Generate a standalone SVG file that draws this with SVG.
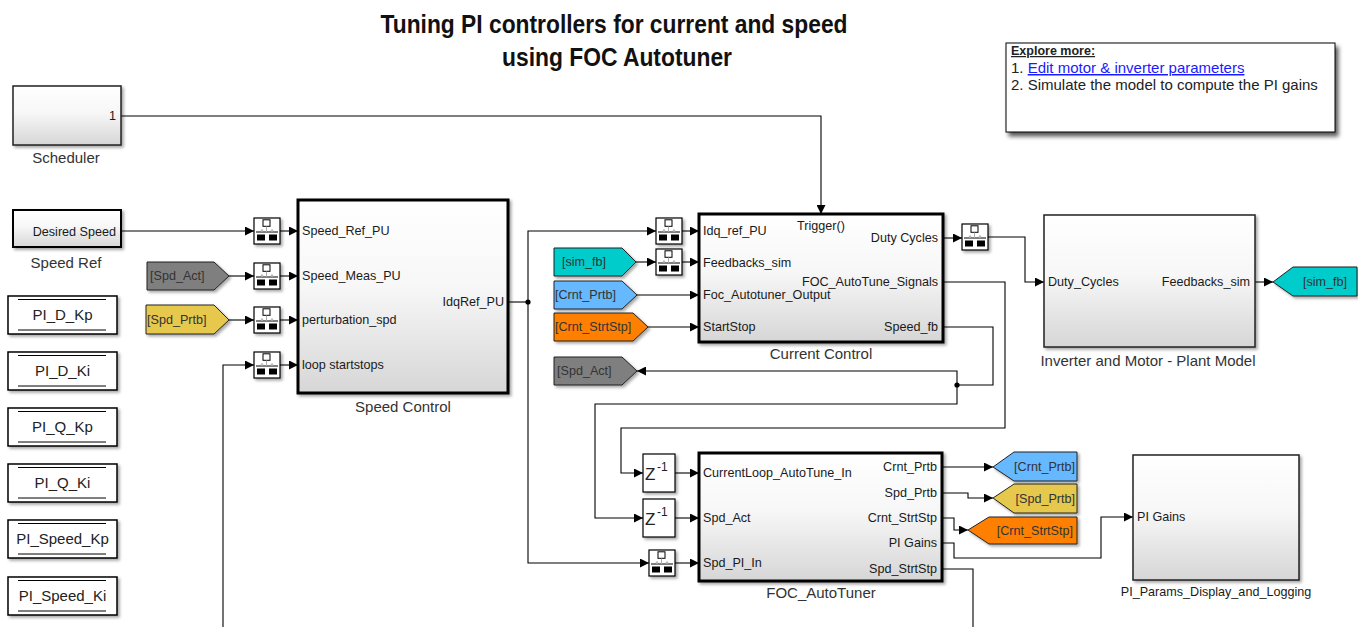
<svg xmlns="http://www.w3.org/2000/svg" xmlns:xlink="http://www.w3.org/1999/xlink" width="1358" height="627" viewBox="0 0 1358 627">
<style>
text{font-family:"Liberation Sans",Arial,sans-serif}
.port{font-size:12.6px;fill:#1a1a1a}
.end{text-anchor:end}
.lbl{font-size:15px;fill:#333;text-anchor:middle}
.blk{fill:url(#grad);stroke:#000;stroke-width:2}
.heavy{stroke-width:3}
.thin{stroke:#222;stroke-width:1.5}
.const{fill:#fff;stroke:#000;stroke-width:1.5}
.cl{stroke:#000;stroke-width:1}
.ctext{font-size:15px;fill:#222;text-anchor:middle}
.tag{stroke:#222;stroke-width:1}
.tagt{font-size:12.6px;fill:#333}
.w{fill:none;stroke:#000;stroke-width:1.1;marker-end:url(#ah)}
.wn{fill:none;stroke:#000;stroke-width:1.1}
.z{fill:#fff;stroke:#000;stroke-width:1.2}
</style>
<defs>
<linearGradient id="grad" x1="0" y1="0" x2="0" y2="1">
<stop offset="0" stop-color="#ffffff"/>
<stop offset="0.45" stop-color="#f7f7f7"/>
<stop offset="1" stop-color="#d6d6d6"/>
</linearGradient>
<filter id="sh" x="-10%" y="-10%" width="130%" height="130%">
<feDropShadow dx="2" dy="2" stdDeviation="1.4" flood-color="#000" flood-opacity="0.35"/>
</filter>
<filter id="sh2" x="-10%" y="-10%" width="130%" height="140%">
<feDropShadow dx="3" dy="4" stdDeviation="2" flood-color="#000" flood-opacity="0.65"/>
</filter>
<marker id="ah" markerWidth="9" markerHeight="9" refX="9" refY="4.5" orient="auto" markerUnits="userSpaceOnUse">
<path d="M0,0 L9,4.5 L0,9 Z" fill="#000"/>
</marker>
<g id="rt">
<rect x="0" y="0" width="26" height="26" fill="#fff" stroke="#000" stroke-width="1.2" filter="url(#sh)"/>
<rect x="9" y="1.8" width="7" height="6.5" fill="#fff" stroke="#000" stroke-width="1"/>
<line x1="2" y1="14" x2="24" y2="14" stroke="#000" stroke-width="1"/>
<line x1="12.5" y1="8.5" x2="12.5" y2="14" stroke="#aaa" stroke-width="1"/>
<circle cx="8" cy="12.5" r="1.2" fill="#bbb"/>
<circle cx="18" cy="12.5" r="1.2" fill="#bbb"/>
<rect x="3" y="16.5" width="8" height="6" fill="#000"/>
<rect x="15" y="16.5" width="8" height="6" fill="#000"/>
</g>
</defs>
<rect width="1358" height="627" fill="#fff"/>

<g id="title">
<text x="614" y="33" font-size="26" font-weight="bold" fill="#111" text-anchor="middle" textLength="467" lengthAdjust="spacingAndGlyphs">Tuning PI controllers for current and speed</text>
<text x="617" y="66" font-size="26" font-weight="bold" fill="#111" text-anchor="middle" textLength="230" lengthAdjust="spacingAndGlyphs">using FOC Autotuner</text>
</g>

<g id="explore-more">
<rect x="1006" y="43" width="329" height="89" fill="#fff" stroke="#000" stroke-width="1" filter="url(#sh2)"/>
<text x="1011" y="55" font-size="12.5" font-weight="bold" fill="#222" text-decoration="underline">Explore more:</text>
<text x="1011" y="73" font-size="15" fill="#222">1. <tspan fill="#1a1aff" text-decoration="underline">Edit motor &amp; inverter parameters</tspan></text>
<text x="1011" y="90" font-size="15" fill="#222">2. Simulate the model to compute the PI gains</text>
</g>

<g id="connectors">
<path class="w" d="M121,116 H821 V214"/>
<path class="w" d="M121,231 H254"/>
<path class="w" d="M280,231 H298"/>
<path class="w" d="M229,276 H254"/>
<path class="w" d="M280,276 H298"/>
<path class="w" d="M229,320 H254"/>
<path class="w" d="M280,320 H298"/>
<path class="w" d="M223,627 V365 H254"/>
<path class="w" d="M280,365 H298"/>
<path class="wn" d="M508,302 H528"/>
<path class="w" d="M528,302 V231 H656"/>
<path class="w" d="M528,302 V563 H649"/>
<circle cx="528" cy="302" r="2.6" fill="#000"/>
<path class="w" d="M682,231 H699"/>
<path class="w" d="M636,262 H656"/>
<path class="w" d="M682,262 H699"/>
<path class="w" d="M637,295 H699"/>
<path class="w" d="M648,327 H699"/>
<path class="w" d="M943,238 H962"/>
<path class="w" d="M988,237 H1025 V282 H1044"/>
<path class="w" d="M1255,282 H1273"/>
<path class="w" d="M943,282 H1005 V428 H621 V473 H643"/>
<path class="wn" d="M943,327 H993 V385 H957"/>
<path class="w" d="M957,385 V371 H637"/>
<path class="w" d="M957,385 V404 H595 V518 H643"/>
<circle cx="957" cy="385" r="2.6" fill="#000"/>
<path class="w" d="M675,473 H699"/>
<path class="w" d="M675,518 H699"/>
<path class="w" d="M675,563 H699"/>
<path class="w" d="M942,467 H993"/>
<path class="w" d="M942,493 H968 V498 H993"/>
<path class="w" d="M942,518 H954 V530 H968"/>
<path class="w" d="M942,543 H954 V558 H1101 V517 H1133"/>
<path class="wn" d="M942,569 H973 V627"/>
</g>

<g id="scheduler">
<rect x="13" y="86" width="108" height="59" class="blk thin" filter="url(#sh)"/>
<text x="116" y="120" class="port end">1</text>
<text x="66" y="163" class="lbl">Scheduler</text>
</g>

<g id="speed-ref">
<rect x="13" y="210" width="108" height="37" class="blk" stroke-width="2.5" filter="url(#sh)"/>
<text x="116" y="236" class="port end">Desired Speed</text>
<text x="66" y="268" class="lbl">Speed Ref</text>
</g>

<g id="pi-d-kp"><rect x="8" y="296" width="109" height="38" class="const" filter="url(#sh)"/><line x1="18" y1="299.5" x2="106" y2="299.5" class="cl"/><line x1="18" y1="330" x2="106" y2="330" class="cl"/><text x="62.5" y="320" class="ctext">PI_D_Kp</text></g>
<g id="pi-d-ki"><rect x="8" y="352" width="109" height="38" class="const" filter="url(#sh)"/><line x1="18" y1="355.5" x2="106" y2="355.5" class="cl"/><line x1="18" y1="386" x2="106" y2="386" class="cl"/><text x="62.5" y="376" class="ctext">PI_D_Ki</text></g>
<g id="pi-q-kp"><rect x="8" y="408" width="109" height="38" class="const" filter="url(#sh)"/><line x1="18" y1="411.5" x2="106" y2="411.5" class="cl"/><line x1="18" y1="442" x2="106" y2="442" class="cl"/><text x="62.5" y="432" class="ctext">PI_Q_Kp</text></g>
<g id="pi-q-ki"><rect x="8" y="464" width="109" height="38" class="const" filter="url(#sh)"/><line x1="18" y1="467.5" x2="106" y2="467.5" class="cl"/><line x1="18" y1="498" x2="106" y2="498" class="cl"/><text x="62.5" y="488" class="ctext">PI_Q_Ki</text></g>
<g id="pi-speed-kp"><rect x="8" y="520" width="109" height="38" class="const" filter="url(#sh)"/><line x1="18" y1="523.5" x2="106" y2="523.5" class="cl"/><line x1="18" y1="554" x2="106" y2="554" class="cl"/><text x="62.5" y="544" class="ctext">PI_Speed_Kp</text></g>
<g id="pi-speed-ki"><rect x="8" y="577" width="109" height="38" class="const" filter="url(#sh)"/><line x1="18" y1="580.5" x2="106" y2="580.5" class="cl"/><line x1="18" y1="611" x2="106" y2="611" class="cl"/><text x="62.5" y="601" class="ctext">PI_Speed_Ki</text></g>

<g id="from-spd-act">
<path d="M147,262 H214 L229,276 L214,290 H147 Z" fill="#7f7f7f" class="tag" filter="url(#sh)"/>
<text x="150" y="280" class="tagt">[Spd_Act]</text>
</g>
<g id="from-spd-prtb">
<path d="M146,305 H214 L229,320 L214,334 H146 Z" fill="#e6c84e" class="tag" filter="url(#sh)"/>
<text x="147" y="324" class="tagt">[Spd_Prtb]</text>
</g>

<g id="rt-speed-ref"><use xlink:href="#rt" x="254" y="218"/></g>
<g id="rt-speed-meas"><use xlink:href="#rt" x="254" y="263"/></g>
<g id="rt-perturbation"><use xlink:href="#rt" x="254" y="307"/></g>
<g id="rt-loop"><use xlink:href="#rt" x="254" y="352"/></g>

<g id="speed-control">
<rect x="298" y="200" width="210" height="193" class="blk heavy" filter="url(#sh)"/>
<text x="302" y="235" class="port">Speed_Ref_PU</text>
<text x="302" y="280" class="port">Speed_Meas_PU</text>
<text x="302" y="324" class="port">perturbation_spd</text>
<text x="302" y="369" class="port">loop startstops</text>
<text x="504" y="306" class="port end">IdqRef_PU</text>
<text x="403" y="412" class="lbl">Speed Control</text>
</g>

<g id="from-sim-fb">
<path d="M554,248 H622 L636,262 L622,276 H554 Z" fill="#00cccc" class="tag" filter="url(#sh)"/>
<text x="562" y="266" class="tagt">[sim_fb]</text>
</g>
<g id="from-crnt-prtb">
<path d="M554,281 H622 L637,295 L622,309 H554 Z" fill="#66b8ff" class="tag" filter="url(#sh)"/>
<text x="555" y="299" class="tagt">[Crnt_Prtb]</text>
</g>
<g id="from-crnt-strtstp">
<path d="M554,313 H633 L648,327 L633,341 H554 Z" fill="#ff8000" class="tag" filter="url(#sh)"/>
<text x="555" y="331" class="tagt" fill="#4a2000">[Crnt_StrtStp]</text>
</g>
<g id="goto-spd-act">
<path d="M554,357 H622 L637,371 L622,385 H554 Z" fill="#7f7f7f" class="tag" filter="url(#sh)"/>
<text x="557" y="375" class="tagt">[Spd_Act]</text>
</g>

<g id="rt-idq"><use xlink:href="#rt" x="656" y="218"/></g>
<g id="rt-fb"><use xlink:href="#rt" x="656" y="249"/></g>

<g id="current-control">
<rect x="699" y="214" width="244" height="128" class="blk heavy" filter="url(#sh)"/>
<text x="703" y="235" class="port">Idq_ref_PU</text>
<text x="703" y="267" class="port">Feedbacks_sim</text>
<text x="703" y="299" class="port">Foc_Autotuner_Output</text>
<text x="703" y="331" class="port">StartStop</text>
<text x="821" y="230" class="port" text-anchor="middle">Trigger()</text>
<text x="938" y="242" class="port end">Duty Cycles</text>
<text x="938" y="286" class="port end">FOC_AutoTune_Signals</text>
<text x="938" y="331" class="port end">Speed_fb</text>
<text x="821" y="359" class="lbl">Current Control</text>
</g>

<g id="rt-duty"><use xlink:href="#rt" x="962" y="224"/></g>

<g id="inverter-motor">
<rect x="1044" y="215" width="211" height="132" class="blk thin" filter="url(#sh)"/>
<text x="1048" y="286" class="port">Duty_Cycles</text>
<text x="1250" y="286" class="port end">Feedbacks_sim</text>
<text x="1148" y="366" class="lbl">Inverter and Motor - Plant Model</text>
</g>

<g id="goto-sim-fb">
<path d="M1357,267 H1293 L1273,282 L1293,296 H1357 Z" fill="#00cccc" class="tag" filter="url(#sh)"/>
<text x="1347" y="286" class="tagt end">[sim_fb]</text>
</g>

<g id="delay-1">
<rect x="643" y="454" width="32" height="38" class="z" filter="url(#sh)"/>
<text x="645" y="480" font-size="17" fill="#222">Z</text><text x="657" y="471" font-size="12" fill="#222">-1</text>
</g>
<g id="delay-2">
<rect x="643" y="499" width="32" height="38" class="z" filter="url(#sh)"/>
<text x="645" y="525" font-size="17" fill="#222">Z</text><text x="657" y="516" font-size="12" fill="#222">-1</text>
</g>
<g id="rt-spd-pi"><use xlink:href="#rt" x="649" y="550"/></g>

<g id="foc-autotuner">
<rect x="699" y="453" width="243" height="128" class="blk heavy" filter="url(#sh)"/>
<text x="703" y="477" class="port">CurrentLoop_AutoTune_In</text>
<text x="703" y="522" class="port">Spd_Act</text>
<text x="703" y="567" class="port">Spd_PI_In</text>
<text x="937" y="471" class="port end">Crnt_Prtb</text>
<text x="937" y="497" class="port end">Spd_Prtb</text>
<text x="937" y="522" class="port end">Crnt_StrtStp</text>
<text x="937" y="547" class="port end">PI Gains</text>
<text x="937" y="573" class="port end">Spd_StrtStp</text>
<text x="821" y="598" class="lbl">FOC_AutoTuner</text>
</g>

<g id="goto-crnt-prtb">
<path d="M1077,452 H1014 L993,467 L1014,481 H1077 Z" fill="#66b8ff" class="tag" filter="url(#sh)"/>
<text x="1075" y="471" class="tagt end">[Crnt_Prtb]</text>
</g>
<g id="goto-spd-prtb">
<path d="M1077,484 H1014 L993,498 L1014,513 H1077 Z" fill="#e6c84e" class="tag" filter="url(#sh)"/>
<text x="1075" y="503" class="tagt end">[Spd_Prtb]</text>
</g>
<g id="goto-crnt-strtstp">
<path d="M1077,517 H989 L968,530 L989,544 H1077 Z" fill="#ff8000" class="tag" filter="url(#sh)"/>
<text x="1073" y="535" class="tagt end" fill="#4a2000">[Crnt_StrtStp]</text>
</g>

<g id="pi-params-display">
<rect x="1133" y="455" width="166" height="125" class="blk thin" filter="url(#sh)"/>
<text x="1137" y="521" class="port">PI Gains</text>
<text x="1216" y="596" class="port" text-anchor="middle" fill="#333">PI_Params_Display_and_Logging</text>
</g>
</svg>
